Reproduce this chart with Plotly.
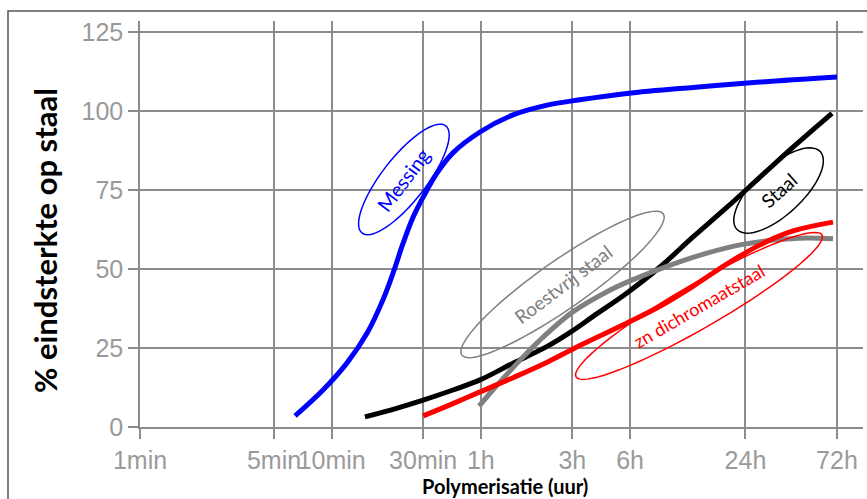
import math
import plotly.graph_objects as go

# ---------------- data (time in minutes, strength in %) ----------------
tick_vals = [1, 5, 10, 30, 60, 180, 360, 1440, 4320]
tick_text = ["1min", "5min", "10min", "30min", "1h", "3h", "6h", "24h", "72h"]
y_ticks = [0, 25, 50, 75, 100, 125]

messing_t = [6.44, 9.01, 12.0, 15.3, 18.5, 20.9, 23.6, 26.6, 30.0, 35.4, 42.9, 59.4,
             88.3, 133, 197, 347, 767, 1715, 4320]
messing_v = [3.5, 11.7, 20.2, 29.7, 40.2, 48.7, 58.2, 66.4, 72.7, 80.3, 86.7, 93.3,
             98.7, 101.8, 103.5, 105.5, 107.4, 109.1, 110.7]

staal_t = [14.9, 22.0, 30.0, 42.9, 59.4, 88.3, 133, 181, 231, 347, 516, 767, 1154,
           1715, 2549, 4072]
staal_v = [3.2, 6.0, 8.5, 11.7, 14.9, 20.2, 25.5, 30.5, 35.0, 42.4, 50.6, 60.1, 69.5,
           79.0, 88.5, 99.2]

roest_t = [58.7, 71.1, 99.5, 122, 181, 273, 360, 603, 907, 1349, 2004, 3013, 4121]
roest_v = [6.6, 12.5, 22.1, 27.5, 36.4, 42.8, 46.2, 51.5, 55.0, 57.6, 59.1, 59.8, 59.5]

zn_t = [30.0, 42.9, 59.4, 88.3, 133, 197, 347, 516, 767, 1154, 1715, 2549, 4121]
zn_v = [3.5, 7.4, 11.1, 15.6, 20.5, 25.8, 32.9, 38.2, 44.5, 51.6, 57.6, 62.0, 64.8]

# ---------------- layout geometry ----------------
W, H = 867, 499
ML, MR, MT, MB = 140, 4, 21, 72
PW, PH = W - ML - MR, H - MT - MB
X_SPAN = 3.7715           # decades shown (log10 minutes)
Y_MAX = 128.4

GRID = "#8c8c8c"
TICKC = "#9a9a9a"
TXT_FONT = "Lato, Open Sans, sans-serif"


def data_to_paper(t, v):
    return math.log10(t) / X_SPAN, v / Y_MAX


def px_to_paper(px, py):
    return (px - ML) / PW, (H - MB - py) / PH


def ellipse_path(t, v, a, b, ang_deg, n=72):
    cx, cy = data_to_paper(t, v)
    th = math.radians(ang_deg)
    pts = []
    for i in range(n + 1):
        s = 2 * math.pi * i / n
        ex = a * math.cos(s)
        ey = b * math.sin(s)
        dx = ex * math.cos(th) - ey * math.sin(th)
        dy = ex * math.sin(th) + ey * math.cos(th)
        pts.append((cx + dx / PW, cy + dy / PH))
    return "M " + " L ".join(f"{x:.5f},{y:.5f}" for x, y in pts) + " Z"


fig = go.Figure()


def add_line(t, v, color):
    fig.add_trace(go.Scatter(x=t, y=v, mode="lines",
                             line=dict(color=color, width=5, shape="spline", smoothing=1.0),
                             showlegend=False, hoverinfo="skip"))


add_line(staal_t, staal_v, "#000000")
add_line(roest_t, roest_v, "#808080")
add_line(zn_t, zn_v, "#ff0000")
add_line(messing_t, messing_v, "#0000ff")

labels = [
    # text, color, ellipse centre (t, v), a, b, ellipse angle, text angle, size
    ("Messing", "#0000ff", (23.8, 78.3), 68, 22, 52, -53, 20),
    ("Roestvrij staal", "#808080", (160, 45.1), 123, 24, 35, -37, 19),
    ("Staal", "#000000", (2143, 74.8), 57, 24, 43, -42, 19),
    ("zn dichromaatstaal", "#ff0000", (824, 38.3), 142, 22, 30, -30, 18),
]

shapes = []
annotations = []
for txt, col, (ct, cv), a, b, ea, ta, fs in labels:
    shapes.append(dict(type="path", xref="paper", yref="paper",
                       path=ellipse_path(ct, cv, a, b, ea),
                       line=dict(color=col, width=1.5), fillcolor="rgba(0,0,0,0)"))
    px, py = data_to_paper(ct, cv)
    annotations.append(dict(x=px, y=py, xref="paper", yref="paper", text=txt,
                            xanchor="center", yanchor="middle",
                            showarrow=False, textangle=ta,
                            font=dict(family=TXT_FONT, size=fs, color=col)))

# outer frame (left and top edges)
fx0, fy0 = px_to_paper(8, H + 5)
fx1, fy1 = px_to_paper(8, 11)
fx2, fy2 = px_to_paper(W + 5, 11)
shapes.append(dict(type="path", xref="paper", yref="paper",
                   path=f"M {fx0:.5f},{fy0:.5f} L {fx1:.5f},{fy1:.5f} L {fx2:.5f},{fy2:.5f}",
                   line=dict(color="#555555", width=1.5)))

# axis titles
ytx, yty = px_to_paper(45, 241)
annotations.append(dict(x=ytx, y=yty, xref="paper", yref="paper",
                        xanchor="center", yanchor="middle",
                        text="<b>% eindsterkte op staal</b>", showarrow=False, textangle=-90,
                        font=dict(family=TXT_FONT, size=31, color="#000000")))
xtx, xty = px_to_paper(505, 486)
annotations.append(dict(x=xtx, y=xty, xref="paper", yref="paper",
                        xanchor="center", yanchor="middle",
                        text="<b>Polymerisatie (uur)</b>", showarrow=False,
                        font=dict(family=TXT_FONT, size=20, color="#000000")))

fig.update_layout(
    width=W, height=H,
    margin=dict(l=ML, r=MR, t=MT, b=MB, pad=0),
    paper_bgcolor="white", plot_bgcolor="white",
    shapes=shapes, annotations=annotations,
    xaxis=dict(type="log", range=[0, X_SPAN], tickvals=tick_vals, ticktext=tick_text,
               tickangle=0, showgrid=True, gridcolor=GRID, gridwidth=1.5,
               showline=True, linecolor=GRID, linewidth=1.5,
               ticks="outside", ticklen=10, tickwidth=1.5, tickcolor=GRID,
               tickfont=dict(family="Liberation Sans, Arial, sans-serif", size=25, color=TICKC),
               zeroline=False),
    yaxis=dict(range=[0, Y_MAX], tickvals=y_ticks, showgrid=True, gridcolor=GRID, gridwidth=1.5,
               showline=True, linecolor=GRID, linewidth=1.5,
               ticks="outside", ticklen=10, tickwidth=1.5, tickcolor=GRID,
               tickfont=dict(family="Liberation Sans, Arial, sans-serif", size=25, color=TICKC),
               zeroline=False),
)

fig.write_html("out.html", config={"displayModeBar": False},
               post_script="document.body.style.margin='0';document.body.style.overflow='hidden';")
